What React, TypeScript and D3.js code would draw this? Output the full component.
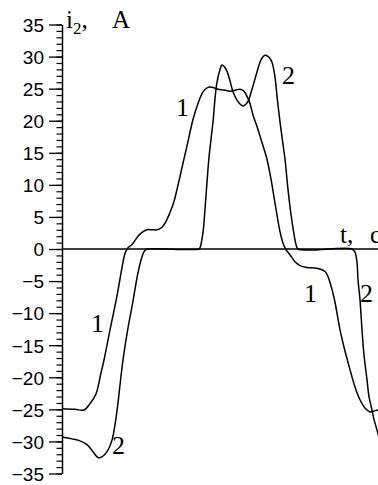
import React, { useEffect, useRef } from 'react';
import * as d3 from 'd3';

const WIDTH = 378;
const HEIGHT = 485;

const MARGIN = { left: 62, top: 24.5, bottom: 11.5 };

// the time axis carries no ticks; t runs in arbitrary units across the visible part
const T_MAX = 316;
const Y_TICKS = [35, 30, 25, 20, 15, 10, 5, 0, -5, -10, -15, -20, -25, -30, -35];

// curve 1
const curve1T = [0, 13, 22, 28, 34, 39, 42, 48, 55, 60, 63, 66, 70, 76, 81, 85, 90, 95, 100, 104, 108, 112, 115, 118, 121, 124, 127, 131, 136, 141, 146, 150, 156, 162, 168, 174, 178, 182, 185, 188, 191, 195, 198, 202, 205, 209, 214, 218, 221, 224, 228, 233, 238, 245, 255, 263, 266, 270, 273, 278, 283, 288, 293, 298, 303, 308, 313, 316, 323];
const curve1I = [-24.9, -25.0, -25.1, -24.1, -22.6, -19.3, -17.3, -12.6, -7.3, -2.9, -0.7, 0.2, 0.7, 2.0, 2.7, 3.0, 3.0, 3.0, 3.4, 4.3, 5.7, 7.4, 9.3, 11.3, 13.4, 15.4, 17.5, 20.2, 22.7, 24.5, 25.2, 25.2, 24.9, 24.8, 24.6, 24.8, 24.9, 24.6, 23.8, 22.7, 20.9, 19.1, 17.6, 15.6, 14.0, 10.9, 6.2, 2.7, 0.9, -0.1, -0.9, -2.0, -2.6, -2.9, -3.0, -3.5, -4.3, -6.3, -8.3, -12.6, -15.9, -18.8, -21.5, -23.5, -24.8, -25.4, -25.2, -25.1, -25.1];

// curve 2
const curve2T = [0, 10, 16, 25, 31, 36, 40, 45, 50, 53, 56, 58, 61, 66, 70, 76, 80, 83, 86, 137, 138, 141, 143, 145, 147, 149, 151, 153, 155, 158, 160, 162, 165, 168, 171, 175, 178, 181, 184, 186, 190, 195, 199, 203, 207, 210, 213, 215, 218, 221, 223, 226, 229, 232, 234, 236, 290, 293, 295, 296, 298, 300, 302, 305, 307, 310, 312, 315, 316, 323];
const curve2I = [-29.3, -29.6, -29.8, -30.5, -31.6, -32.5, -32.4, -31.6, -29.8, -27.4, -24.0, -21.2, -17.3, -12.3, -9.0, -3.7, -1.2, -0.2, 0, 0, 0.2, 2.6, 6.2, 10.4, 14.3, 17.1, 19.8, 23.4, 26.0, 28.0, 28.7, 28.5, 27.7, 26.2, 24.5, 23.2, 22.6, 22.3, 22.6, 23.0, 24.9, 27.6, 29.5, 30.2, 29.9, 29.1, 26.8, 23.8, 19.8, 16.3, 14.0, 9.3, 5.4, 2.3, 0.7, 0, 0, -0.5, -2.1, -4.8, -7.9, -12.6, -16.5, -20.4, -23.0, -25.1, -26.6, -28.2, -28.8, -32.9];

// curve labels
const labelT = [114, 220, 29, 50, 242, 298];
const labelI = [20.7, 25.7, -13.0, -31.9, -8.2, -8.2];
const labelText = ['1', '2', '1', '2', '1', '2'];

export default function App() {
  const ref = useRef<SVGSVGElement>(null);

  useEffect(() => {
    const svg = d3.select(ref.current);
    svg.selectAll('*').remove();

    const x = d3.scaleLinear().domain([0, T_MAX]).range([MARGIN.left, WIDTH]);
    const y = d3.scaleLinear().domain([-35, 35]).range([HEIGHT - MARGIN.bottom, MARGIN.top]);

    // minor ticks every 1 A
    svg.append('g')
      .attr('transform', `translate(${MARGIN.left},0)`)
      .call(d3.axisLeft(y).tickValues(d3.range(-35, 36, 1)).tickSize(5.5).tickSizeOuter(0).tickFormat(() => ''))
      .call(g => g.select('.domain').remove())
      .call(g => g.selectAll('line').attr('stroke', '#000').attr('stroke-width', 1.2));

    // major ticks and labels
    svg.append('g')
      .attr('transform', `translate(${MARGIN.left},0)`)
      .call(d3.axisLeft(y).tickValues(Y_TICKS).tickSize(13).tickSizeOuter(0).tickPadding(5))
      .call(g => g.select('.domain').attr('stroke', '#000').attr('stroke-width', 1.5))
      .call(g => g.selectAll('line').attr('stroke', '#000').attr('stroke-width', 1.3))
      .call(g => g.selectAll('text')
        .attr('fill', '#000')
        .attr('font-family', 'Liberation Sans, Arial, sans-serif')
        .attr('font-size', 19)
        .attr('dy', '0.36em'));

    // horizontal zero axis
    svg.append('line')
      .attr('x1', x(0)).attr('x2', WIDTH)
      .attr('y1', y(0)).attr('y2', y(0))
      .attr('stroke', '#000').attr('stroke-width', 1.6);

    const line = d3.line<[number, number]>()
      .x(d => x(d[0]))
      .y(d => y(d[1]))
      .curve(d3.curveCatmullRom.alpha(0.5));

    const draw = (ts: number[], is: number[]) => {
      svg.append('path')
        .datum(ts.map((t, k) => [t, is[k]] as [number, number]))
        .attr('fill', 'none')
        .attr('stroke', '#000')
        .attr('stroke-width', 1.5)
        .attr('d', line);
    };

    draw(curve1T, curve1I);
    draw(curve2T, curve2I);

    const serif = 'Liberation Serif, Times New Roman, serif';

    svg.selectAll('.curveLabel')
      .data(labelText)
      .enter()
      .append('text')
      .attr('class', 'curveLabel')
      .attr('x', (d, k) => x(labelT[k]))
      .attr('y', (d, k) => y(labelI[k]))
      .attr('font-family', serif)
      .attr('font-size', 26)
      .text(d => d);

    // axis titles
    const yTitle = svg.append('text')
      .attr('x', 66)
      .attr('y', 28)
      .attr('font-family', serif)
      .attr('font-size', 25);
    yTitle.append('tspan').text('i');
    yTitle.append('tspan').attr('font-size', 17).attr('dy', 6).text('2');
    yTitle.append('tspan').attr('dy', -6).text(',');
    yTitle.append('tspan').attr('x', 112).text('A');

    // the reference crops the unit at the right edge
    const xTitle = svg.append('text')
      .attr('x', 340)
      .attr('y', 243)
      .attr('font-family', serif)
      .attr('font-size', 25);
    xTitle.append('tspan').text('t,');
    xTitle.append('tspan').attr('x', 370).text('с');
  }, []);

  return (
    <svg
      ref={ref}
      width={WIDTH}
      height={HEIGHT}
      style={{ position: 'absolute', left: 0, top: 0, background: '#fff' }}
    />
  );
}
